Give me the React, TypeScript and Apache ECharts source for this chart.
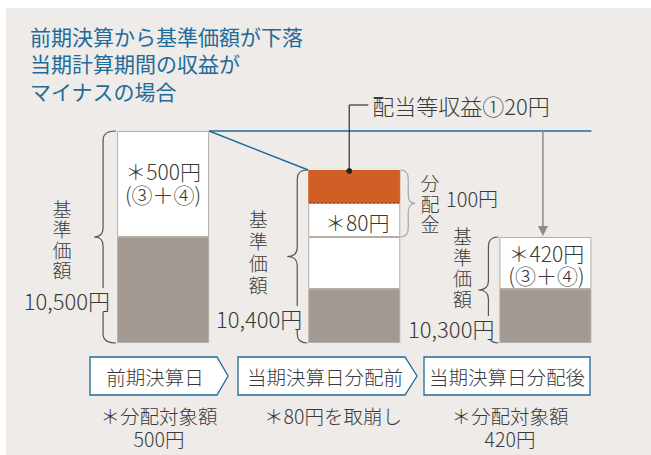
import React, { useEffect, useRef } from "react";
import * as echarts from "echarts";

// ---- data (schematic segment heights) ----
const categories = ["前期決算日", "当期決算日分配前", "当期決算日分配後"];
const baseHeight = [106, 54, 54]; // lower part of NAV (grey)
const targetHeight = [106, 52, 52]; // 分配対象額 (③+④) (white)
const drawdownHeight = [null, 34, null]; // ＊80円 取崩し (white)
const incomeHeight = [null, 33, null]; // 配当等収益①20円 (orange)
const navLabels = ["10,500円", "10,400円", "10,300円"];
const barLabels = ["＊500円\n(③＋④)", "", "＊420円\n(③＋④)"];
const bottomNotes = ["＊分配対象額\n500円", "＊80円を取崩し", "＊分配対象額\n420円"];
const titleLines = ["前期決算から基準価額が下落", "当期計算期間の収益が", "マイナスの場合"];
const navWord = "基\n準\n価\n額";
const distributionWord = "分\n配\n金";
const distributionLabel = "100円";
const drawdownLabel = "＊80円";
const incomeLabel = "配当等収益①20円";

const FONT = '"Noto Sans CJK JP", "Noto Sans", sans-serif';
const BLUE = "#1F6B9A";
const GREY = "#A29A92";
const ORANGE = "#D05F26";
const TEXT = "#3a3a3a";
const BG = "#EEEBE8";

const Brace = echarts.graphic.extendShape({
  shape: { x: 0, y1: 0, y2: 100, d: 10, tip: -8, r: 8 },
  buildPath(ctx: any, s: any) {
    const ym = (s.y1 + s.y2) / 2;
    ctx.moveTo(s.x + s.d, s.y1);
    ctx.quadraticCurveTo(s.x, s.y1, s.x, s.y1 + s.r);
    ctx.lineTo(s.x, ym - s.r);
    ctx.quadraticCurveTo(s.x, ym, s.x + s.tip, ym);
    ctx.quadraticCurveTo(s.x, ym, s.x, ym + s.r);
    ctx.lineTo(s.x, s.y2 - s.r);
    ctx.quadraticCurveTo(s.x, s.y2, s.x + s.d, s.y2);
  },
});
echarts.graphic.registerShape("brace", Brace);

function txt(text: string, x: number, y: number, o: any = {}) {
  const align = o.align || "center";
  const style: any = {
    text,
    fill: o.fill || TEXT,
    fontSize: o.fontSize || 20,
    fontFamily: FONT,
    fontWeight: o.fontWeight || 300,
    align,
    textAlign: align,
    verticalAlign: "middle",
    textVerticalAlign: "middle",
    lineHeight: o.lineHeight || (o.fontSize || 20) + 2,
  };
  if (o.bg) {
    style.backgroundColor = o.bg;
    style.padding = [0, 1];
  }
  return { type: "text", x, y, z: 30, silent: true, style };
}

function line(x1: number, y1: number, x2: number, y2: number, stroke: string, w = 1.3, dash?: number[]) {
  return {
    type: "line",
    z: 25,
    silent: true,
    shape: { x1, y1, x2, y2 },
    style: { stroke, lineWidth: w, lineDash: dash },
  };
}

function brace(x: number, y1: number, y2: number, d: number, tip: number, stroke: string) {
  return {
    type: "brace",
    z: 25,
    silent: true,
    shape: { x, y1, y2, d, tip, r: 9 },
    style: { fill: "none", stroke, lineWidth: 1.2 },
  };
}

export default function App() {
  const ref = useRef<HTMLDivElement>(null);
  useEffect(() => {
    const chart = echarts.init(ref.current!, null, { renderer: "svg" });
    const seg = (name: string, data: any[], color: string, border: string) => ({
      name,
      type: "bar",
      stack: "nav",
      barWidth: 92,
      data,
      itemStyle: { color, borderColor: border, borderWidth: 1 },
      emphasis: { disabled: true },
    });
    chart.setOption({
      animation: false,
      backgroundColor: "#ffffff",
      grid: { left: 67.5, right: 10, top: 131, bottom: 112 },
      xAxis: { type: "category", data: categories, show: false },
      yAxis: { type: "value", min: 0, max: 212, show: false },
      series: [
        seg("base", baseHeight, GREY, "#B3ADA6"),
        seg("target", targetHeight, "#ffffff", "#B3ADA6"),
        seg("drawdown", drawdownHeight, "#ffffff", "#B3ADA6"),
        seg("income", incomeHeight, ORANGE, ORANGE),
      ],
    });

    const P = (i: number, v: number) => chart.convertToPixel({ gridIndex: 0 } as any, [i, v]) as number[];
    const tops = categories.map(
      (_, i) => (baseHeight[i] || 0) + (targetHeight[i] || 0) + (drawdownHeight[i] || 0) + (incomeHeight[i] || 0)
    );
    const cx = categories.map((_, i) => P(i, 0)[0]);
    const yb = P(0, 0)[1];
    const L = cx.map((c) => c - 46);
    const R = cx.map((c) => c + 46);
    const topY = tops.map((t, i) => P(i, t)[1]);
    const incomeBottom = P(1, tops[1] - (incomeHeight[1] || 0))[1];
    const drawBottom = P(1, (baseHeight[1] || 0) + (targetHeight[1] || 0))[1];
    const arrowX = cx[2] - 2.5;

    const els: any[] = [
      {
        type: "rect",
        z: -10,
        silent: true,
        shape: { x: 6, y: 8, width: 645, height: 447 },
        style: { fill: BG },
      },
      txt(titleLines.join("\n"), 30, 63, { align: "left", fill: BLUE, fontSize: 21, lineHeight: 27.5, fontWeight: "normal" }),
      // blue reference lines
      line(R[0], topY[0], R[2], topY[0], BLUE, 1.4),
      line(R[0], topY[0], L[1], topY[1], BLUE, 1.4),
      // grey arrow
      line(arrowX, topY[0], arrowX, topY[2] - 8, "#8C8C8C", 1.5),
      {
        type: "polygon",
        z: 25,
        silent: true,
        shape: { points: [[arrowX - 5, topY[2] - 11], [arrowX + 5, topY[2] - 11], [arrowX, topY[2] - 1]] },
        style: { fill: "#8C8C8C" },
      },
      // callout to income
      line(cx[1] - 5, 105, cx[1] + 14, 105, "#333", 1.2),
      line(cx[1] - 5, 105, cx[1] - 5, topY[1] + 1, "#333", 1.2),
      { type: "circle", z: 26, silent: true, shape: { cx: cx[1] - 5, cy: topY[1] + 1, r: 3 }, style: { fill: "#222" } },
      txt(incomeLabel, cx[1] + 18, 105, { align: "left", fontSize: 22 }),
      // dotted boundary between income and drawdown
      line(L[1] + 1, incomeBottom, R[1] - 1, incomeBottom, "#444", 1.2, [2, 2]),
      // braces
      brace(L[0] - 14, topY[0], yb, 13, -9, "#555"),
      brace(L[1] - 11, topY[1], yb, 10, -10, "#555"),
      brace(L[2] - 11, topY[2], yb, 10, -10, "#555"),
      brace(R[1] + 8, topY[1], drawBottom, -8, 7, "#A8A8A8"),
      // vertical NAV words
      txt(navWord, L[0] - 55, 239, { fontSize: 19, lineHeight: 20.5 }),
      txt(navWord, L[1] - 50, 251.5, { fontSize: 19, lineHeight: 22 }),
      txt(navWord, L[2] - 37, 266.5, { fontSize: 19, lineHeight: 21 }),
      // NAV values (background breaks the brace line, as in the reference)
      txt(navLabels[0], L[0] - 6, 300, { align: "right", fontSize: 22, bg: BG }),
      txt(navLabels[1], L[1] - 5, 318, { align: "right", fontSize: 22, bg: BG }),
      txt(navLabels[2], L[2] - 4, 328, { align: "right", fontSize: 22, bg: BG }),
      // bar texts
      txt(barLabels[0], cx[0], topY[0] + 51, { fontSize: 21, lineHeight: 23 }),
      txt(barLabels[2], cx[2] + 1, topY[2] + 27, { fontSize: 21, lineHeight: 22 }),
      txt(drawdownLabel, cx[1] + 3, (incomeBottom + drawBottom) / 2 + 2, { fontSize: 21 }),
      // distribution
      txt(distributionWord, 430, 203, { fontSize: 19, lineHeight: 20.5 }),
      txt(distributionLabel, 446, 198, { align: "left", fontSize: 20 }),
      // bottom boxes
      {
        type: "polygon",
        z: 20,
        silent: true,
        shape: { points: [[90, 357], [217, 357], [228, 376], [217, 395], [90, 395]] },
        style: { fill: "#fff", stroke: BLUE, lineWidth: 1.3 },
      },
      {
        type: "polygon",
        z: 20,
        silent: true,
        shape: { points: [[238, 357], [405, 357], [417, 376], [405, 395], [238, 395]] },
        style: { fill: "#fff", stroke: BLUE, lineWidth: 1.3 },
      },
      {
        type: "rect",
        z: 20,
        silent: true,
        shape: { x: 424, y: 357, width: 166, height: 38 },
        style: { fill: "#fff", stroke: BLUE, lineWidth: 1.3 },
      },
      txt(categories[0], 155, 376, { fontSize: 19.5 }),
      txt(categories[1], 325, 376, { fontSize: 19.5 }),
      txt(categories[2], 507, 376, { fontSize: 19.5 }),
      // notes
      txt(bottomNotes[0], 159, 426.5, { fontSize: 19.5, lineHeight: 23 }),
      txt(bottomNotes[1], 333, 415, { fontSize: 19.5 }),
      txt(bottomNotes[2], 510, 426.5, { fontSize: 19.5, lineHeight: 23 }),
    ];
    chart.setOption({ graphic: { elements: els } });
    return () => chart.dispose();
  }, []);
  return (
    <div
      ref={ref}
      style={{ position: "fixed", left: 0, top: 0, width: 651, height: 455 }}
    />
  );
}
